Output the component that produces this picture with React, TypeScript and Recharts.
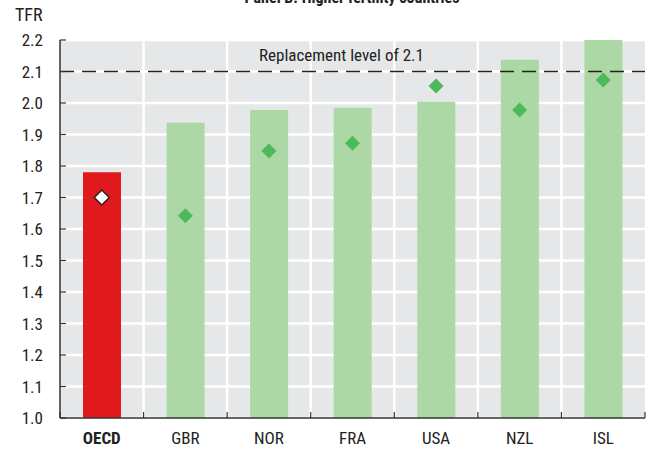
import React from 'react';
import {
  ComposedChart,
  Bar,
  Cell,
  Scatter,
  XAxis,
  YAxis,
  CartesianGrid,
  ReferenceLine,
} from 'recharts';

const categories = ['OECD', 'GBR', 'NOR', 'FRA', 'USA', 'NZL', 'ISL'];
const barValues = [1.78, 1.937, 1.978, 1.985, 2.004, 2.137, 2.2];
const diamondValues = [1.7, 1.642, 1.848, 1.872, 2.054, 1.978, 2.073];
const yTicks = [1.0, 1.1, 1.2, 1.3, 1.4, 1.5, 1.6, 1.7, 1.8, 1.9, 2.0, 2.1, 2.2];
const replacementLevel = 2.1;
const replacementLabel = 'Replacement level of 2.1';
const title = 'Panel B. Higher fertility countries';
const yUnit = 'TFR';

const data = categories.map((c, i) => ({
  name: c,
  bar: barValues[i],
  diamond: diamondValues[i],
}));

const W = 652;
const H = 453;
const MARGIN = { top: 40, right: 7, bottom: 0, left: 0 };
const Y_AXIS_W = 60;
const X_AXIS_H = 35;
const BAND = (W - MARGIN.left - MARGIN.right - Y_AXIS_W) / categories.length;

const FONT = '"Liberation Sans Narrow", "Arial Narrow", "Roboto Condensed", "Liberation Sans", Arial, sans-serif';
const AXIS_COLOR = '#333333';
const TEXT_COLOR = '#222222';
const RED = '#e0191f';
const LIGHT_GREEN = '#acd8a5';
const GREEN = '#4cb95a';
const BG = '#e6e7e9';

const XTick = (props: any) => {
  const { x, y, payload, index } = props;
  const isOecd = payload.value === 'OECD';
  const axisY = y - 12;
  return (
    <g>
      {index === 0 && (
        <line x1={x - BAND / 2} x2={x - BAND / 2} y1={axisY} y2={axisY - 6} stroke={AXIS_COLOR} strokeWidth={1.2} />
      )}
      <line x1={x + BAND / 2} x2={x + BAND / 2} y1={axisY} y2={axisY - 6} stroke={AXIS_COLOR} strokeWidth={1.2} />
      <text
        x={x}
        y={y + 2}
        dy="0.71em"
        textAnchor="middle"
        fontFamily={FONT}
        fontSize={17}
        fontWeight={isOecd ? 'bold' : 'normal'}
        fill={TEXT_COLOR}
      >
        {payload.value}
      </text>
    </g>
  );
};

const Diamond = (props: any) => {
  const { cx, cy, payload } = props;
  if (cx == null || cy == null) return null;
  const isOecd = payload && payload.name === 'OECD';
  const r = 7.5;
  const pts = `${cx},${cy - r} ${cx + r},${cy} ${cx},${cy + r} ${cx - r},${cy}`;
  return (
    <polygon
      points={pts}
      fill={isOecd ? '#ffffff' : GREEN}
      stroke={isOecd ? '#222222' : 'none'}
      strokeWidth={isOecd ? 1.5 : 0}
    />
  );
};

const RefLabel = (props: any) => {
  const { viewBox } = props;
  if (!viewBox) return null;
  const cx = viewBox.x + viewBox.width / 2 - 11;
  return (
    <text x={cx} y={viewBox.y - 11} textAnchor="middle" fontFamily={FONT} fontSize={17} fill={TEXT_COLOR}>
      {replacementLabel}
    </text>
  );
};

export default function App() {
  return (
    <div style={{ position: 'absolute', left: 0, top: 0, width: W, height: H, background: '#ffffff', overflow: 'hidden' }}>
      <div
        style={{
          position: 'absolute',
          left: 0,
          width: 704,
          top: -11,
          textAlign: 'center',
          fontFamily: FONT,
          fontSize: 16,
          fontWeight: 'bold',
          color: TEXT_COLOR,
          lineHeight: '17px',
          whiteSpace: 'nowrap',
        }}
      >
        {title}
      </div>
      <div
        style={{
          position: 'absolute',
          left: 15,
          top: 5,
          fontFamily: FONT,
          fontSize: 18,
          color: TEXT_COLOR,
          lineHeight: '20px',
        }}
      >
        {yUnit}
      </div>
      <ComposedChart width={W} height={H} data={data} margin={MARGIN} barCategoryGap={0}>
        <CartesianGrid
          fill={BG}
          stroke="#ffffff"
          strokeWidth={2.5}
          verticalCoordinatesGenerator={({ offset }: any) =>
            categories.map((_, i) => offset.left + i * (offset.width / categories.length)).slice(1)
          }
        />
        <XAxis
          dataKey="name"
          height={X_AXIS_H}
          tickLine={false}
          tickSize={0}
          tickMargin={12}
          axisLine={{ stroke: AXIS_COLOR, strokeWidth: 1.5 }}
          tick={<XTick />}
          interval={0}
        />
        <YAxis
          width={Y_AXIS_W}
          domain={[1.0, 2.2]}
          ticks={yTicks}
          allowDataOverflow
          interval={0}
          tickSize={-6}
          tickMargin={23}
          tickFormatter={(v: number) => v.toFixed(1)}
          tick={{ fontFamily: FONT, fontSize: 17, fill: TEXT_COLOR }}
          tickLine={{ stroke: AXIS_COLOR, strokeWidth: 1.2 }}
          axisLine={{ stroke: AXIS_COLOR, strokeWidth: 1.5 }}
        />
        <Bar dataKey="bar" barSize={38} isAnimationActive={false}>
          {data.map((d) => (
            <Cell key={d.name} fill={d.name === 'OECD' ? RED : LIGHT_GREEN} />
          ))}
        </Bar>
        <ReferenceLine
          y={replacementLevel}
          stroke="#222222"
          strokeWidth={1.6}
          strokeDasharray="14 8"
          label={<RefLabel />}
        />
        <Scatter dataKey="diamond" shape={<Diamond />} isAnimationActive={false} />
      </ComposedChart>
    </div>
  );
}
